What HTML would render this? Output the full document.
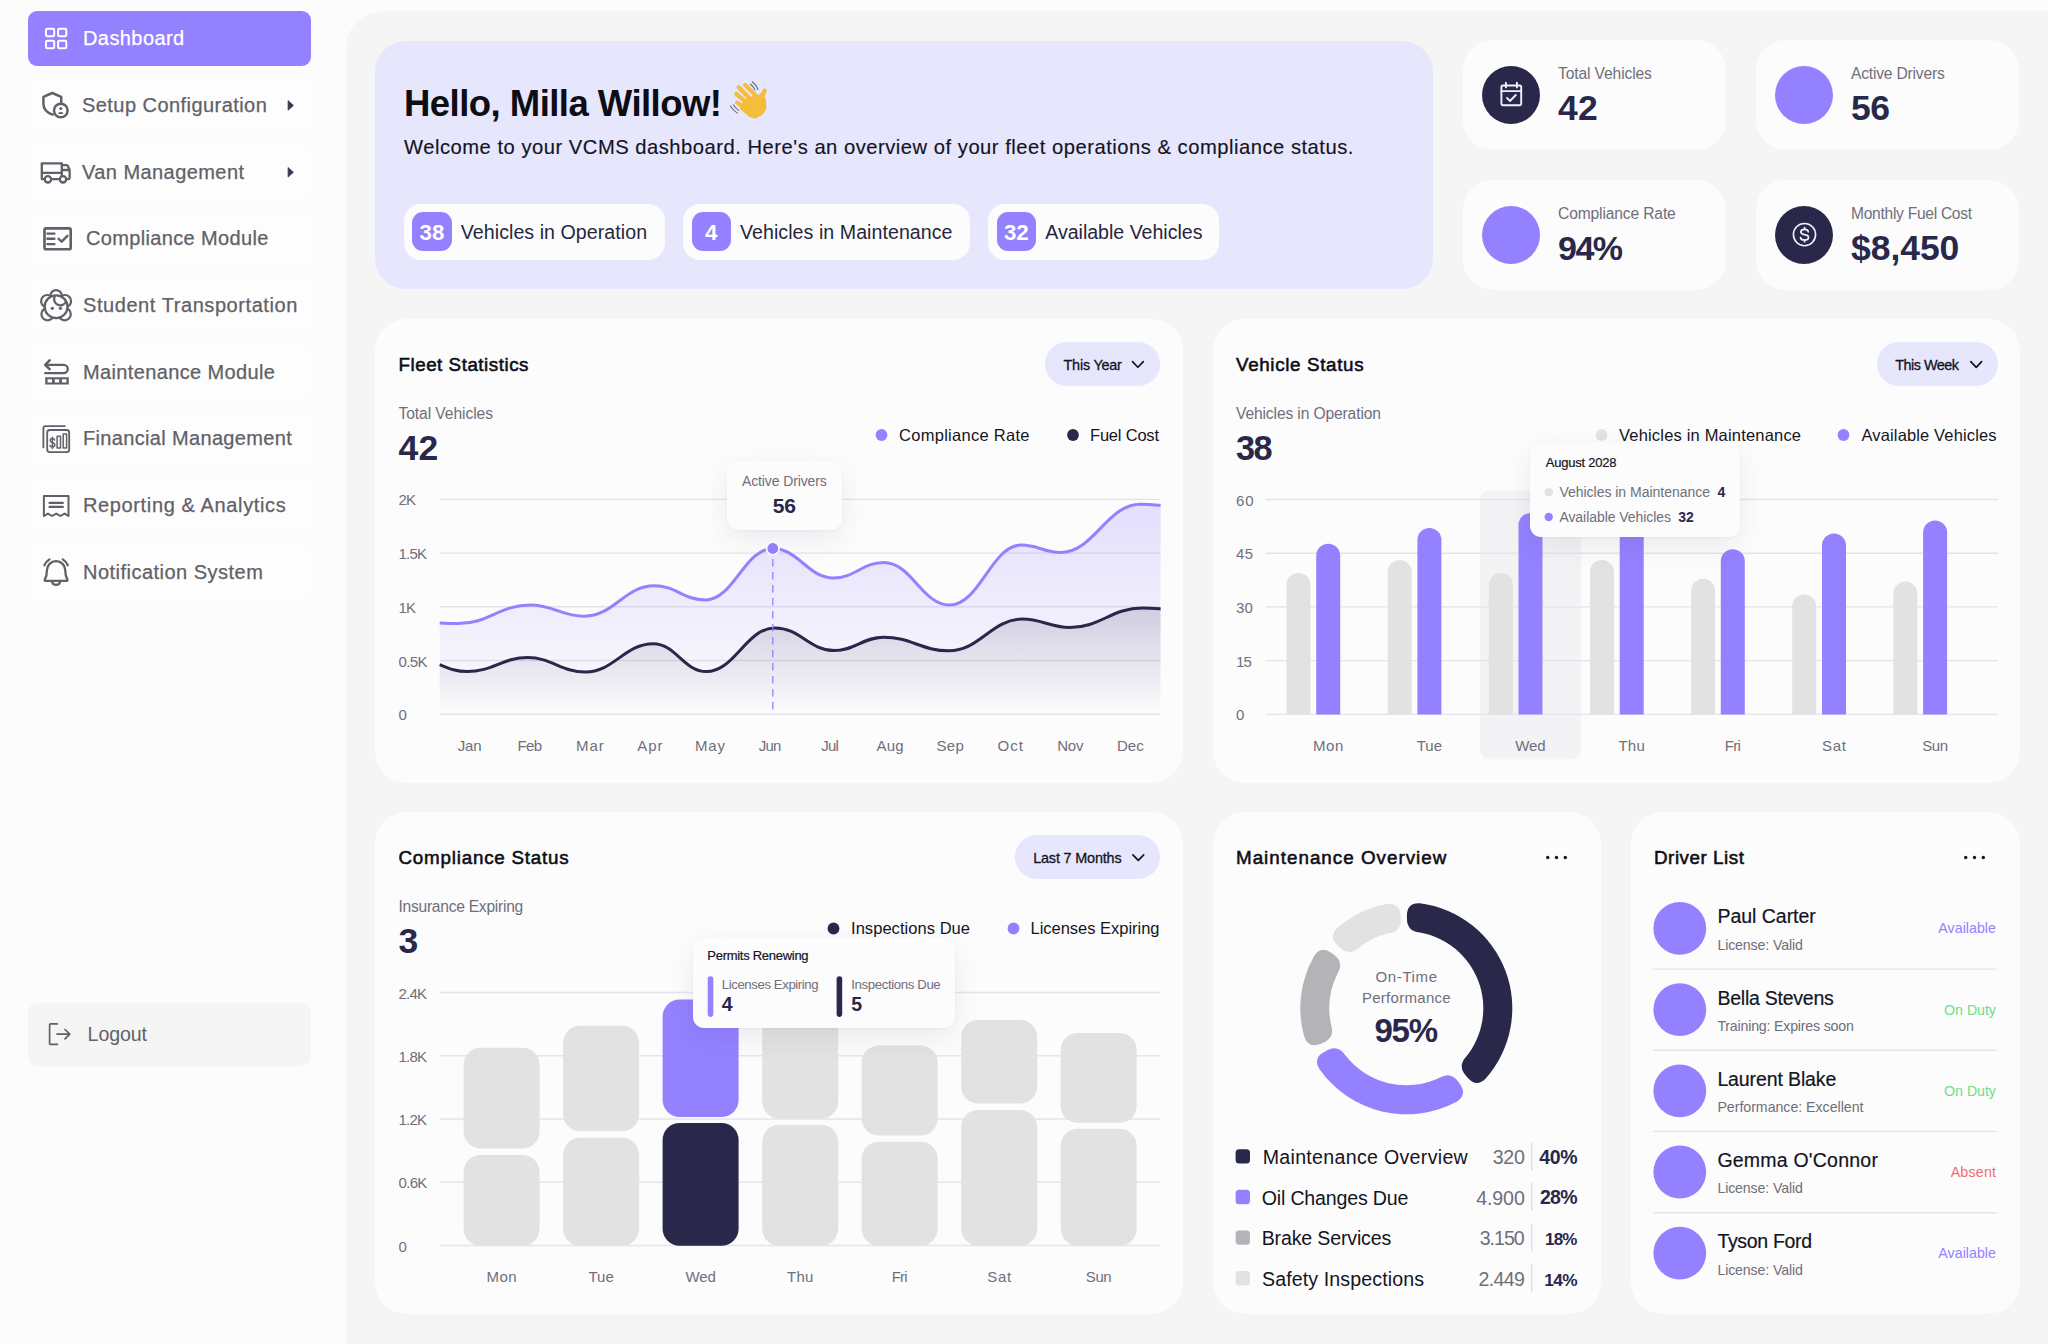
<!DOCTYPE html>
<html lang="en"><head><meta charset="utf-8"><title>VCMS Dashboard</title>
<style>
html,body{margin:0;padding:0;}
body{width:2048px;height:1344px;overflow:hidden;background:#fcfcfc;font-family:"Liberation Sans",sans-serif;}
#app{position:relative;width:2048px;height:1344px;overflow:hidden;}
.t{position:absolute;white-space:nowrap;}
aside,nav,main,section{display:block;margin:0;padding:0;}
.b{position:absolute;box-sizing:border-box;}
svg{position:absolute;left:0;top:0;overflow:visible;}
</style></head><body><div id="app">
<aside><nav aria-label="Main navigation">
<div class="b" style="left:28.00px;top:11.00px;width:283.00px;height:55.00px;background:#9381ff;border-radius:9px;"></div>
<div class="t" style="left:83.00px;top:28.00px;font-size:20px;line-height:20px;color:#ffffff;letter-spacing:0.416px;-webkit-text-stroke:0.25px #ffffff;">Dashboard</div>
<div class="b" style="left:28.00px;top:77.50px;width:283.00px;height:55.00px;background:#fdfdfd;border-radius:9px;"></div>
<div class="t" style="left:82.00px;top:95.00px;font-size:20px;line-height:20px;color:#616167;letter-spacing:0.445px;-webkit-text-stroke:0.25px #616167;">Setup Configuration</div>
<div class="b" style="left:28.00px;top:144.50px;width:283.00px;height:55.00px;background:#fdfdfd;border-radius:9px;"></div>
<div class="t" style="left:82.00px;top:162.00px;font-size:20px;line-height:20px;color:#616167;letter-spacing:0.434px;-webkit-text-stroke:0.25px #616167;">Van Management</div>
<div class="b" style="left:28.00px;top:211.00px;width:283.00px;height:55.00px;background:#fdfdfd;border-radius:9px;"></div>
<div class="t" style="left:86.00px;top:228.00px;font-size:20px;line-height:20px;color:#616167;letter-spacing:0.347px;-webkit-text-stroke:0.25px #616167;">Compliance Module</div>
<div class="b" style="left:28.00px;top:277.50px;width:283.00px;height:55.00px;background:#fdfdfd;border-radius:9px;"></div>
<div class="t" style="left:83.00px;top:295.00px;font-size:20px;line-height:20px;color:#616167;letter-spacing:0.569px;-webkit-text-stroke:0.25px #616167;">Student Transportation</div>
<div class="b" style="left:28.00px;top:344.50px;width:283.00px;height:55.00px;background:#fdfdfd;border-radius:9px;"></div>
<div class="t" style="left:83.00px;top:362.00px;font-size:20px;line-height:20px;color:#616167;letter-spacing:0.370px;-webkit-text-stroke:0.25px #616167;">Maintenance Module</div>
<div class="b" style="left:28.00px;top:411.00px;width:283.00px;height:55.00px;background:#fdfdfd;border-radius:9px;"></div>
<div class="t" style="left:83.00px;top:428.00px;font-size:20px;line-height:20px;color:#616167;letter-spacing:0.338px;-webkit-text-stroke:0.25px #616167;">Financial Management</div>
<div class="b" style="left:28.00px;top:478.00px;width:283.00px;height:55.00px;background:#fdfdfd;border-radius:9px;"></div>
<div class="t" style="left:83.00px;top:495.00px;font-size:20px;line-height:20px;color:#616167;letter-spacing:0.629px;-webkit-text-stroke:0.25px #616167;">Reporting &amp; Analytics</div>
<div class="b" style="left:28.00px;top:544.50px;width:283.00px;height:55.00px;background:#fdfdfd;border-radius:9px;"></div>
<div class="t" style="left:83.00px;top:562.00px;font-size:20px;line-height:20px;color:#616167;letter-spacing:0.480px;-webkit-text-stroke:0.25px #616167;">Notification System</div>
<div class="b" style="left:28.00px;top:1003.00px;width:283.00px;height:63.00px;background:#f5f5f5;border-radius:9px;"></div>
<div class="t" style="left:87.60px;top:1025.00px;font-size:19.6px;line-height:19.6px;color:#616167;letter-spacing:-0.110px;">Logout</div>
<svg width="2048" height="1344" viewBox="0 0 2048 1344"><rect x="46.0" y="28.7" width="8.2" height="7.6" rx="1.2" fill="none" stroke="#fff" stroke-width="2"/><rect x="46.0" y="40.7" width="8.2" height="7.6" rx="1.2" fill="none" stroke="#fff" stroke-width="2"/><rect x="58.1" y="28.7" width="8.2" height="7.6" rx="1.2" fill="none" stroke="#fff" stroke-width="2"/><rect x="58.1" y="40.7" width="8.2" height="7.6" rx="1.2" fill="none" stroke="#fff" stroke-width="2"/><path d="M61.2 102.5 V96.9 L52.3 93 L43.4 96.9 V103.5 C43.4 108.6 47.2 112.8 52.6 114.6" fill="none" stroke="#606068" stroke-linecap="round" stroke-linejoin="round" stroke-width="2.5"/><circle cx="60.8" cy="110.5" r="6.8" fill="none" stroke="#606068" stroke-linecap="round" stroke-linejoin="round" stroke-width="2.5"/><circle cx="60.8" cy="108.4" r="1.5" fill="#606068"/><path d="M57.9 113.2 Q60.8 110.6 63.7 113.2 Q60.8 115 57.9 113.2 Z" fill="#606068"/><path d="M44 179.2 H41.8 V163.4 H61.8 V179.2 H52 M41.8 172.9 H61.8 M61.8 165.2 H66.6 Q67.6 165.2 68 166.2 L69.6 170 V178 Q69.6 179.2 68.4 179.2 H67 M61.8 170 H69.4 M52 179.2 H59" stroke-width="2.3" fill="none" stroke="#606068" stroke-linecap="round" stroke-linejoin="round"/><circle cx="47.9" cy="179.3" r="3.2" stroke-width="2.3" stroke="#606068" stroke-linecap="round" stroke-linejoin="round" fill="#fcfcfc"/><circle cx="63" cy="179.3" r="3.2" stroke-width="2.3" stroke="#606068" stroke-linecap="round" stroke-linejoin="round" fill="#fcfcfc"/><rect x="44.5" y="228.4" width="26.2" height="20.9" rx="1.5" fill="none" stroke="#606068" stroke-linecap="round" stroke-linejoin="round" stroke-width="2.6"/><path d="M47.4 233.6 H54.4 M47.4 238.8 H54.4 M47.4 244.1 H54.4" fill="none" stroke="#606068" stroke-linecap="round" stroke-linejoin="round" stroke-width="2.4" stroke-linecap="butt"/><path d="M58.6 238.8 L61.7 241.7 L67.4 235.8" fill="none" stroke="#606068" stroke-linecap="round" stroke-linejoin="round" stroke-width="2.4" stroke-linecap="butt" stroke-linejoin="miter"/><circle cx="56.1" cy="296" r="5.8" fill="none" stroke="#606068" stroke-linecap="round" stroke-linejoin="round" stroke-width="2.2"/><circle cx="47.3" cy="301.2" r="6.2" fill="none" stroke="#606068" stroke-linecap="round" stroke-linejoin="round" stroke-width="2.2"/><circle cx="64.9" cy="301.2" r="6.2" fill="none" stroke="#606068" stroke-linecap="round" stroke-linejoin="round" stroke-width="2.2"/><circle cx="47.6" cy="314.1" r="6.2" fill="none" stroke="#606068" stroke-linecap="round" stroke-linejoin="round" stroke-width="2.2"/><circle cx="64.6" cy="314.1" r="6.2" fill="none" stroke="#606068" stroke-linecap="round" stroke-linejoin="round" stroke-width="2.2"/><circle cx="56.1" cy="306.7" r="11.4" stroke-width="2.3" stroke="#606068" stroke-linecap="round" stroke-linejoin="round" fill="#fcfcfc"/><path d="M54.6 296.6 A6 6 0 0 0 66 301.6" stroke-width="2.3" fill="none" stroke="#606068" stroke-linecap="round" stroke-linejoin="round"/><circle cx="52.3" cy="308.3" r="1.6" fill="#606068"/><circle cx="60.4" cy="308.3" r="1.6" fill="#606068"/><path d="M46.2 364.8 H63.6 A4.2 4.2 0 0 1 63.6 373.2 H45.2" fill="none" stroke="#606068" stroke-linecap="round" stroke-linejoin="round" stroke-width="2.3" stroke-linecap="butt"/><path d="M49.6 360.4 L45.2 364.8 L49.6 369.2" fill="none" stroke="#606068" stroke-linecap="round" stroke-linejoin="round" stroke-width="2.6" stroke-linecap="butt" stroke-linejoin="miter"/><path d="M45.2 377.2 H68.8 V384.6 H45.2 Z M47.6 379.2 V382.6 H52 V379.2 Z M54.8 379.2 V382.6 H59.2 V379.2 Z M62 379.2 V382.6 H66.4 V379.2 Z" fill="#606068" fill-rule="evenodd"/><path d="M64.8 426.1 H45.4 Q43.4 426.1 43.4 428.1 V447.3" fill="none" stroke="#606068" stroke-linecap="round" stroke-linejoin="round" stroke-width="1.8" stroke-linecap="butt"/><rect x="47.2" y="430" width="22" height="22.2" rx="2.6" fill="none" stroke="#606068" stroke-linecap="round" stroke-linejoin="round" stroke-width="1.8"/><rect x="57.1" y="436.2" width="3.4" height="11.8" fill="none" stroke="#606068" stroke-linecap="round" stroke-linejoin="round" stroke-width="1.5"/><rect x="63.2" y="434" width="3.4" height="14" fill="none" stroke="#606068" stroke-linecap="round" stroke-linejoin="round" stroke-width="1.5"/><path d="M54.6 440 Q54.4 438.6 52.4 438.6 Q50.2 438.6 50.2 440.6 Q50.2 442.2 52.4 442.7 Q54.8 443.2 54.8 445 Q54.8 447 52.4 447 Q50.2 447 50 445.4 M52.4 437.2 V448.6" fill="none" stroke="#606068" stroke-linecap="round" stroke-linejoin="round" stroke-width="1.5"/><path d="M43.9 516 V496 H68.5 V516 L64.5 513.6 L60.4 516 L56.2 513.6 L52 516 L48 513.6 Z" fill="none" stroke="#606068" stroke-linecap="round" stroke-linejoin="round" stroke-width="2"/><path d="M49.6 502.9 H62.8 M49.6 506.9 H62.8" stroke-width="2.3" fill="none" stroke="#606068" stroke-linecap="round" stroke-linejoin="round" stroke-linecap="butt"/><path d="M45.4 580.8 H66.8 Q67.8 580.8 67.4 579.6 C65.6 576.6 65.3 574 65.3 570.4 A9.2 9.2 0 0 0 46.9 570.4 C46.9 574 46.6 576.6 44.8 579.6 Q44.4 580.8 45.4 580.8 Z" stroke-width="2.3" fill="none" stroke="#606068" stroke-linecap="round" stroke-linejoin="round"/><path d="M52 581.4 A4.2 4.4 0 0 0 60.2 581.4" stroke-width="2.3" fill="none" stroke="#606068" stroke-linecap="round" stroke-linejoin="round"/><path d="M44.4 565.2 Q46 561.6 49.4 559.4 M62.8 559.4 Q66.2 561.6 67.8 565.2" stroke-width="2.3" fill="none" stroke="#606068" stroke-linecap="round" stroke-linejoin="round"/><path d="M57.4 1023.9 H50.6 Q49.6 1023.9 49.6 1024.9 V1043.4 Q49.6 1044.4 50.6 1044.4 H57.4 M57 1034.1 H69.6 M65 1029.5 L69.8 1034.1 L65 1038.9" fill="none" stroke="#606068" stroke-linecap="round" stroke-linejoin="round" stroke-width="1.7"/><path d="M288.1 100.60000000000001 L293.4 105.4 L288.1 110.2 Z" fill="#38384f" stroke="#38384f" stroke-width="0.8" stroke-linejoin="round"/><path d="M288.1 167.5 L293.4 172.3 L288.1 177.10000000000002 Z" fill="#38384f" stroke="#38384f" stroke-width="0.8" stroke-linejoin="round"/></svg>
</nav></aside>
<main>
<div class="b" style="left:345.60px;top:11.20px;width:1754.40px;height:1388.80px;background:#f5f5f5;border-radius:37px;"></div>
<section aria-label="Welcome">
<div class="b" style="left:375.00px;top:41.00px;width:1058.00px;height:248.00px;background:#e6e6fd;border-radius:31px;"></div>
<svg width="2048" height="1344" viewBox="0 0 2048 1344"><g transform="translate(700,70) scale(0.048828)" aria-label="waving hand"><path d="M1000 560 L1180 545 L1262 470 L1335 600 L1345 780 L1280 900 L1130 980 L1030 955 L830 790 L860 700 Z" fill="#f4bd3a" stroke="#f4bd3a" stroke-width="30" stroke-linejoin="round"/><g stroke="#f4bd3a" stroke-width="86" stroke-linecap="round" fill="none"><path d="M925 305 L1180 565"/><path d="M790 352 L1060 630"/><path d="M742 488 L1000 705"/><path d="M760 668 L960 810"/><path d="M1322 425 L1250 610"/></g><g stroke="#66666e" stroke-width="22" stroke-linecap="round" fill="none"><path d="M1070 240 Q1150 300 1188 400"/><path d="M1032 292 Q1100 340 1128 412"/><path d="M622 738 Q680 830 765 884"/><path d="M682 712 Q730 785 792 828"/></g></g></svg>
<div class="t" style="left:404.00px;top:86.00px;font-size:36.5px;line-height:36.5px;color:#0d0d14;letter-spacing:-0.536px;font-weight:700;">Hello, Milla Willow!</div>
<div class="t" style="left:404.00px;top:137.00px;font-size:20.2px;line-height:20.2px;color:#14141f;letter-spacing:0.508px;-webkit-text-stroke:0.15px #14141f;">Welcome to your VCMS dashboard. Here's an overview of your fleet operations &amp; compliance status.</div>
<div class="b" style="left:403.50px;top:203.80px;width:261.50px;height:56.20px;background:#fcfcfc;border-radius:17px;"></div>
<div class="b" style="left:412.40px;top:212.00px;width:39.30px;height:39.00px;background:#9381ff;border-radius:11px;"></div>
<div class="t" style="left:419.50px;top:222.00px;font-size:22.3px;line-height:22.3px;color:#ffffff;font-weight:700;">38</div>
<div class="t" style="left:460.80px;top:223.00px;font-size:19.6px;line-height:19.6px;color:#26263f;letter-spacing:0.054px;">Vehicles in Operation</div>
<div class="b" style="left:682.70px;top:203.80px;width:287.20px;height:56.20px;background:#fcfcfc;border-radius:17px;"></div>
<div class="b" style="left:691.60px;top:212.00px;width:39.30px;height:39.00px;background:#9381ff;border-radius:11px;"></div>
<div class="t" style="left:704.90px;top:222.00px;font-size:22.3px;line-height:22.3px;color:#ffffff;font-weight:700;">4</div>
<div class="t" style="left:740.00px;top:223.00px;font-size:19.6px;line-height:19.6px;color:#26263f;letter-spacing:0.053px;">Vehicles in Maintenance</div>
<div class="b" style="left:987.90px;top:203.80px;width:231.50px;height:56.20px;background:#fcfcfc;border-radius:17px;"></div>
<div class="b" style="left:996.80px;top:212.00px;width:39.30px;height:39.00px;background:#9381ff;border-radius:11px;"></div>
<div class="t" style="left:1003.90px;top:222.00px;font-size:22.3px;line-height:22.3px;color:#ffffff;font-weight:700;">32</div>
<div class="t" style="left:1045.20px;top:223.00px;font-size:19.6px;line-height:19.6px;color:#26263f;letter-spacing:-0.016px;">Available Vehicles</div>
</section>
<section aria-label="Key metrics">
<div class="b" style="left:1462.50px;top:40.00px;width:263.50px;height:110.00px;background:#fcfcfc;border-radius:30px;"></div>
<div class="b" style="left:1482.00px;top:66.00px;width:58.00px;height:58.00px;background:#29284a;border-radius:29px;"></div>
<div class="t" style="left:1558.00px;top:66.00px;font-size:15.6px;line-height:15.6px;color:#6f6f7b;letter-spacing:-0.112px;">Total Vehicles</div>
<div class="t" style="left:1558.00px;top:91.00px;font-size:35.5px;line-height:35.5px;color:#29284a;letter-spacing:0.318px;font-weight:700;">42</div>
<div class="b" style="left:1755.50px;top:40.00px;width:263.50px;height:110.00px;background:#fcfcfc;border-radius:30px;"></div>
<div class="b" style="left:1775.00px;top:66.00px;width:58.00px;height:58.00px;background:#9381ff;border-radius:29px;"></div>
<div class="t" style="left:1851.00px;top:66.00px;font-size:15.6px;line-height:15.6px;color:#6f6f7b;letter-spacing:-0.188px;">Active Drivers</div>
<div class="t" style="left:1851.00px;top:91.00px;font-size:35.5px;line-height:35.5px;color:#29284a;letter-spacing:-0.616px;font-weight:700;">56</div>
<div class="b" style="left:1462.50px;top:179.70px;width:263.50px;height:110.00px;background:#fcfcfc;border-radius:30px;"></div>
<div class="b" style="left:1482.00px;top:205.70px;width:58.00px;height:58.00px;background:#9381ff;border-radius:29px;"></div>
<div class="t" style="left:1558.00px;top:206.00px;font-size:15.6px;line-height:15.6px;color:#6f6f7b;letter-spacing:-0.133px;">Compliance Rate</div>
<div class="t" style="left:1558.00px;top:231.00px;font-size:34.0px;line-height:34.0px;color:#29284a;letter-spacing:-1.476px;font-weight:700;">94%</div>
<div class="b" style="left:1755.50px;top:179.70px;width:263.50px;height:110.00px;background:#fcfcfc;border-radius:30px;"></div>
<div class="b" style="left:1775.00px;top:205.70px;width:58.00px;height:58.00px;background:#29284a;border-radius:29px;"></div>
<div class="t" style="left:1851.00px;top:206.00px;font-size:15.6px;line-height:15.6px;color:#6f6f7b;letter-spacing:-0.286px;">Monthly Fuel Cost</div>
<div class="t" style="left:1851.00px;top:231.00px;font-size:35.5px;line-height:35.5px;color:#29284a;letter-spacing:-0.054px;font-weight:700;">$8,450</div>
<svg width="2048" height="1344" viewBox="0 0 2048 1344"><g fill="none" stroke="#f1f1ff" stroke-width="1.9" stroke-linecap="round" stroke-linejoin="round"><rect x="1501.4" y="85.5" width="19.8" height="19.7" rx="1.6"/><path d="M1501.4 91.1 H1521.2 M1505.9 82.6 V87.4 M1516.9 82.6 V87.4"/><path d="M1507 97.9 L1510 101 L1515.8 95"/><circle cx="1804.5" cy="234.6" r="11.1" stroke-width="1.6"/><path d="M1808.2 231.8 Q1808 229.4 1804.6 229.4 Q1800.9 229.4 1800.9 232 Q1800.9 234.2 1804.6 234.7 Q1808.5 235.2 1808.5 237.6 Q1808.5 240.1 1804.6 240.1 Q1800.8 240.1 1800.5 237.6 M1804.6 227.7 V229.4 M1804.6 240.1 V241.7" stroke-width="1.7"/></g></svg>
</section>
<section aria-label="Charts and lists">
<div class="b" style="left:375.00px;top:319.00px;width:808.00px;height:463.50px;background:#fcfcfc;border-radius:32px;"></div>
<div class="b" style="left:1213.00px;top:319.00px;width:806.50px;height:463.50px;background:#fcfcfc;border-radius:32px;"></div>
<div class="b" style="left:375.00px;top:812.30px;width:808.00px;height:501.70px;background:#fcfcfc;border-radius:32px;"></div>
<div class="b" style="left:1213.00px;top:812.30px;width:388.00px;height:501.70px;background:#fcfcfc;border-radius:32px;"></div>
<div class="b" style="left:1631.00px;top:812.30px;width:388.50px;height:501.70px;background:#fcfcfc;border-radius:32px;"></div>
<div class="t" style="left:398.50px;top:356.00px;font-size:18.8px;line-height:18.8px;color:#0d0d14;letter-spacing:0.522px;-webkit-text-stroke:0.55px #0d0d14;">Fleet Statistics</div>
<div class="t" style="left:1236.00px;top:356.00px;font-size:18.8px;line-height:18.8px;color:#0d0d14;letter-spacing:0.654px;-webkit-text-stroke:0.55px #0d0d14;">Vehicle Status</div>
<div class="t" style="left:398.50px;top:849.00px;font-size:18.8px;line-height:18.8px;color:#0d0d14;letter-spacing:0.787px;-webkit-text-stroke:0.55px #0d0d14;">Compliance Status</div>
<div class="t" style="left:1236.00px;top:849.00px;font-size:18.8px;line-height:18.8px;color:#0d0d14;letter-spacing:1.014px;-webkit-text-stroke:0.55px #0d0d14;">Maintenance Overview</div>
<div class="t" style="left:1654.00px;top:849.00px;font-size:18.8px;line-height:18.8px;color:#0d0d14;letter-spacing:0.535px;-webkit-text-stroke:0.55px #0d0d14;">Driver List</div>
<div class="b" style="left:1045.20px;top:342.00px;width:114.40px;height:43.70px;background:#e6e6fd;border-radius:21.849999999999994px;"></div>
<div class="t" style="left:1063.50px;top:358.00px;font-size:14.4px;line-height:14.4px;color:#14141f;letter-spacing:-0.205px;-webkit-text-stroke:0.3px #14141f;">This Year</div>
<svg width="2048" height="1344"><path d="M1132.4999999999998 361.65000000000003 L1137.8999999999999 367.25000000000006 L1143.3 361.65000000000003" fill="none" stroke="#14141f" stroke-width="1.7" stroke-linecap="round" stroke-linejoin="round"/></svg>
<div class="b" style="left:1877.00px;top:342.00px;width:120.90px;height:43.80px;background:#e6e6fd;border-radius:21.900000000000006px;"></div>
<div class="t" style="left:1895.30px;top:358.00px;font-size:14.4px;line-height:14.4px;color:#14141f;letter-spacing:-0.501px;-webkit-text-stroke:0.3px #14141f;">This Week</div>
<svg width="2048" height="1344"><path d="M1970.8 361.7 L1976.2 367.3 L1981.6000000000001 361.7" fill="none" stroke="#14141f" stroke-width="1.7" stroke-linecap="round" stroke-linejoin="round"/></svg>
<div class="b" style="left:1014.90px;top:835.10px;width:145.10px;height:43.90px;background:#e6e6fd;border-radius:21.94999999999999px;"></div>
<div class="t" style="left:1033.20px;top:851.00px;font-size:14.4px;line-height:14.4px;color:#14141f;letter-spacing:-0.163px;-webkit-text-stroke:0.3px #14141f;">Last 7 Months</div>
<svg width="2048" height="1344"><path d="M1132.8999999999999 854.85 L1138.3 860.4499999999999 L1143.7 854.85" fill="none" stroke="#14141f" stroke-width="1.7" stroke-linecap="round" stroke-linejoin="round"/></svg>
<div class="t" style="left:398.50px;top:406.00px;font-size:15.6px;line-height:15.6px;color:#6f6f7b;letter-spacing:-0.066px;">Total Vehicles</div>
<div class="t" style="left:398.50px;top:431.00px;font-size:35.5px;line-height:35.5px;color:#29284a;letter-spacing:0.318px;font-weight:700;">42</div>
<div class="t" style="left:1236.00px;top:406.00px;font-size:15.6px;line-height:15.6px;color:#6f6f7b;letter-spacing:-0.121px;">Vehicles in Operation</div>
<div class="t" style="left:1236.00px;top:431.00px;font-size:34.25px;line-height:34.25px;color:#29284a;letter-spacing:-1.543px;font-weight:700;">38</div>
<div class="t" style="left:398.50px;top:899.00px;font-size:15.6px;line-height:15.6px;color:#6f6f7b;letter-spacing:-0.259px;">Insurance Expiring</div>
<div class="t" style="left:398.50px;top:924.00px;font-size:35.5px;line-height:35.5px;color:#29284a;font-weight:700;">3</div>
<svg width="2048" height="1344" viewBox="0 0 2048 1344"><line x1="439.7" y1="499.4" x2="1160.4" y2="499.4" stroke="#e4e4ea" stroke-width="1.4"/><line x1="439.7" y1="553.1" x2="1160.4" y2="553.1" stroke="#e4e4ea" stroke-width="1.4"/><line x1="439.7" y1="606.8" x2="1160.4" y2="606.8" stroke="#e4e4ea" stroke-width="1.4"/><line x1="439.7" y1="660.5" x2="1160.4" y2="660.5" stroke="#e4e4ea" stroke-width="1.4"/><line x1="439.7" y1="714.2" x2="1160.4" y2="714.2" stroke="#e4e4ea" stroke-width="1.4"/><defs><linearGradient id="gp" x1="0" y1="0" x2="0" y2="1"><stop offset="0" stop-color="#9381ff" stop-opacity="0.24"/><stop offset="1" stop-color="#9381ff" stop-opacity="0.0"/></linearGradient><linearGradient id="gd" x1="0" y1="0" x2="0" y2="1"><stop offset="0" stop-color="#29284a" stop-opacity="0.16"/><stop offset="1" stop-color="#29284a" stop-opacity="0.0"/></linearGradient></defs><path d="M439.7 622.9 C445.8 623.3 450.3 623.6 457.9 623.6 C488.3 623.6 499.9 605.0 530.4 605.0 C553.1 605.0 561.7 616.2 584.4 616.2 C613.7 616.2 624.8 585.7 654.1 585.7 C675.6 585.7 683.8 600.0 705.3 600.0 C733.6 600.0 744.4 548.5 772.8 548.5 C798.3 548.5 808.0 578.0 833.5 578.0 C854.6 578.0 862.6 562.4 883.7 562.4 C911.4 562.4 922.0 605.0 949.7 605.0 C979.8 605.0 991.3 545.1 1021.4 545.1 C1037.8 545.1 1044.0 552.5 1060.4 552.5 C1094.0 552.5 1106.8 504.2 1140.4 504.2 C1148.9 504.2 1153.8 504.8 1160.6 505.5 L1160.4 714 L439.7 714 Z" fill="url(#gp)"/><path d="M439.7 664.7 C448.9 668.5 455.6 671.6 467.2 671.6 C492.6 671.6 502.3 657.6 527.7 657.6 C551.9 657.6 561.1 672.0 585.3 672.0 C613.8 672.0 624.7 643.7 653.2 643.7 C675.5 643.7 683.9 671.6 706.2 671.6 C735.1 671.6 746.1 627.9 775.0 627.9 C799.9 627.9 809.5 650.6 834.4 650.6 C855.1 650.6 863.0 637.2 883.7 637.2 C911.0 637.2 921.5 650.8 948.8 650.8 C979.7 650.8 991.4 619.1 1022.3 619.1 C1042.2 619.1 1049.8 627.5 1069.7 627.5 C1100.2 627.5 1111.8 608.0 1142.3 608.0 C1150.0 608.0 1154.5 608.4 1160.6 608.9 L1160.4 714 L439.7 714 Z" fill="url(#gd)"/><path d="M439.7 622.9 C445.8 623.3 450.3 623.6 457.9 623.6 C488.3 623.6 499.9 605.0 530.4 605.0 C553.1 605.0 561.7 616.2 584.4 616.2 C613.7 616.2 624.8 585.7 654.1 585.7 C675.6 585.7 683.8 600.0 705.3 600.0 C733.6 600.0 744.4 548.5 772.8 548.5 C798.3 548.5 808.0 578.0 833.5 578.0 C854.6 578.0 862.6 562.4 883.7 562.4 C911.4 562.4 922.0 605.0 949.7 605.0 C979.8 605.0 991.3 545.1 1021.4 545.1 C1037.8 545.1 1044.0 552.5 1060.4 552.5 C1094.0 552.5 1106.8 504.2 1140.4 504.2 C1148.9 504.2 1153.8 504.8 1160.6 505.5" fill="none" stroke="#9381ff" stroke-width="3"/><path d="M439.7 664.7 C448.9 668.5 455.6 671.6 467.2 671.6 C492.6 671.6 502.3 657.6 527.7 657.6 C551.9 657.6 561.1 672.0 585.3 672.0 C613.8 672.0 624.7 643.7 653.2 643.7 C675.5 643.7 683.9 671.6 706.2 671.6 C735.1 671.6 746.1 627.9 775.0 627.9 C799.9 627.9 809.5 650.6 834.4 650.6 C855.1 650.6 863.0 637.2 883.7 637.2 C911.0 637.2 921.5 650.8 948.8 650.8 C979.7 650.8 991.4 619.1 1022.3 619.1 C1042.2 619.1 1049.8 627.5 1069.7 627.5 C1100.2 627.5 1111.8 608.0 1142.3 608.0 C1150.0 608.0 1154.5 608.4 1160.6 608.9" fill="none" stroke="#29284a" stroke-width="3"/><line x1="772.8" y1="559" x2="772.8" y2="714" stroke="#9381ff" stroke-width="1.3" stroke-dasharray="7.4 5.6"/><circle cx="772.8" cy="548.5" r="6.3" fill="#9381ff" stroke="#fcfcfc" stroke-width="1.8"/><circle cx="881.5" cy="435" r="5.9" fill="#9381ff"/><circle cx="1073" cy="435" r="5.9" fill="#29284a"/><rect x="1480.2" y="490.5" width="100.8" height="269.1" rx="9" fill="#f3f3f5"/><line x1="1265.5" y1="499.5" x2="1998" y2="499.5" stroke="#e4e4ea" stroke-width="1.4"/><line x1="1265.5" y1="553.2" x2="1998" y2="553.2" stroke="#e4e4ea" stroke-width="1.4"/><line x1="1265.5" y1="606.9" x2="1998" y2="606.9" stroke="#e4e4ea" stroke-width="1.4"/><line x1="1265.5" y1="660.6" x2="1998" y2="660.6" stroke="#e4e4ea" stroke-width="1.4"/><line x1="1265.5" y1="714.4" x2="1998" y2="714.4" stroke="#e4e4ea" stroke-width="1.4"/><path d="M1286.5 714.4 V585.0 a12 12 0 0 1 24 0 V714.4 Z" fill="#e2e2e2"/><path d="M1316.2 714.4 V555.8 a12 12 0 0 1 24 0 V714.4 Z" fill="#9381ff"/><path d="M1387.7 714.4 V572.0 a12 12 0 0 1 24 0 V714.4 Z" fill="#e2e2e2"/><path d="M1417.4 714.4 V540.0 a12 12 0 0 1 24 0 V714.4 Z" fill="#9381ff"/><path d="M1488.8 714.4 V585.0 a12 12 0 0 1 24 0 V714.4 Z" fill="#e2e2e2"/><path d="M1518.5 714.4 V525.0 a12 12 0 0 1 24 0 V714.4 Z" fill="#9381ff"/><path d="M1590.0 714.4 V572.0 a12 12 0 0 1 24 0 V714.4 Z" fill="#e2e2e2"/><path d="M1619.7 714.4 V532.0 a12 12 0 0 1 24 0 V714.4 Z" fill="#9381ff"/><path d="M1691.1 714.4 V590.7 a12 12 0 0 1 24 0 V714.4 Z" fill="#e2e2e2"/><path d="M1720.8 714.4 V561.3 a12 12 0 0 1 24 0 V714.4 Z" fill="#9381ff"/><path d="M1792.2 714.4 V606.5 a12 12 0 0 1 24 0 V714.4 Z" fill="#e2e2e2"/><path d="M1822.0 714.4 V545.6 a12 12 0 0 1 24 0 V714.4 Z" fill="#9381ff"/><path d="M1893.4 714.4 V593.6 a12 12 0 0 1 24 0 V714.4 Z" fill="#e2e2e2"/><path d="M1923.1 714.4 V532.4 a12 12 0 0 1 24 0 V714.4 Z" fill="#9381ff"/><circle cx="1601.5" cy="435" r="5.9" fill="#e2e2e2"/><circle cx="1843.5" cy="435" r="5.9" fill="#9381ff"/><line x1="439.7" y1="992.5" x2="1160.4" y2="992.5" stroke="#e4e4ea" stroke-width="1.4"/><line x1="439.7" y1="1055.8" x2="1160.4" y2="1055.8" stroke="#e4e4ea" stroke-width="1.4"/><line x1="439.7" y1="1119" x2="1160.4" y2="1119" stroke="#e4e4ea" stroke-width="1.4"/><line x1="439.7" y1="1182.2" x2="1160.4" y2="1182.2" stroke="#e4e4ea" stroke-width="1.4"/><line x1="439.7" y1="1245.5" x2="1160.4" y2="1245.5" stroke="#e4e4ea" stroke-width="1.4"/><rect x="463.6" y="1155" width="76" height="90.8" rx="17" fill="#e2e2e2"/><rect x="463.6" y="1047.7" width="76" height="100.9" rx="17" fill="#e2e2e2"/><rect x="563.1" y="1137.7" width="76" height="108.1" rx="17" fill="#e2e2e2"/><rect x="563.1" y="1025.8" width="76" height="105.4" rx="17" fill="#e2e2e2"/><rect x="662.6" y="1123" width="76" height="122.8" rx="17" fill="#29284a"/><rect x="662.6" y="999.4" width="76" height="117.6" rx="17" fill="#9381ff"/><rect x="762.2" y="1124.7" width="76" height="121.1" rx="17" fill="#e2e2e2"/><rect x="762.2" y="1008" width="76" height="110.6" rx="17" fill="#e2e2e2"/><rect x="861.7" y="1141.7" width="76" height="104.1" rx="17" fill="#e2e2e2"/><rect x="861.7" y="1045.6" width="76" height="90.0" rx="17" fill="#e2e2e2"/><rect x="961.2" y="1110" width="76" height="135.8" rx="17" fill="#e2e2e2"/><rect x="961.2" y="1020" width="76" height="83.6" rx="17" fill="#e2e2e2"/><rect x="1060.7" y="1128.7" width="76" height="117.1" rx="17" fill="#e2e2e2"/><rect x="1060.7" y="1033" width="76" height="89.7" rx="17" fill="#e2e2e2"/><circle cx="833.5" cy="928.5" r="5.9" fill="#29284a"/><circle cx="1013.5" cy="928.5" r="5.9" fill="#9381ff"/><path d="M1420.00 903.19 A106.0 106.0 0 0 1 1485.72 1078.50 Q1476.54 1087.69 1467.92 1077.95 L1465.94 1075.71 Q1457.32 1065.97 1466.29 1056.58 A77.0 77.0 0 0 0 1419.77 932.49 Q1406.84 931.30 1406.93 918.30 L1406.95 915.30 Q1407.04 902.30 1420.00 903.19 Z" fill="#29284a"/><path d="M1456.51 1101.65 A106.0 106.0 0 0 1 1319.50 1069.14 Q1312.71 1058.06 1324.19 1051.96 L1326.83 1050.55 Q1338.31 1044.45 1345.35 1055.36 A77.0 77.0 0 0 0 1439.60 1077.73 Q1450.80 1071.14 1458.31 1081.75 L1460.04 1084.20 Q1467.55 1094.81 1456.51 1101.65 Z" fill="#9381ff"/><path d="M1304.14 1036.58 A106.0 106.0 0 0 1 1314.02 956.15 Q1321.09 945.25 1331.54 952.98 L1333.95 954.77 Q1344.40 962.50 1337.59 973.55 A77.0 77.0 0 0 0 1331.22 1025.39 Q1335.16 1037.77 1323.15 1042.74 L1320.38 1043.89 Q1308.37 1048.86 1304.14 1036.58 Z" fill="#b4b4b8"/><path d="M1337.50 927.66 A106.0 106.0 0 0 1 1386.93 904.08 Q1399.83 902.50 1400.62 915.47 L1400.81 918.47 Q1401.60 931.44 1388.75 933.33 A77.0 77.0 0 0 0 1359.08 947.48 Q1349.53 956.28 1339.95 947.50 L1337.73 945.47 Q1328.15 936.69 1337.50 927.66 Z" fill="#e2e2e2"/><circle cx="1547.7" cy="857.5" r="1.7" fill="#14141f"/><circle cx="1556.5" cy="857.5" r="1.7" fill="#14141f"/><circle cx="1565.3" cy="857.5" r="1.7" fill="#14141f"/><circle cx="1965.7" cy="857.5" r="1.7" fill="#14141f"/><circle cx="1974.5" cy="857.5" r="1.7" fill="#14141f"/><circle cx="1983.3" cy="857.5" r="1.7" fill="#14141f"/><rect x="1235.6" y="1149.2" width="14.4" height="14.4" rx="3.5" fill="#29284a"/><line x1="1531.7" y1="1142.4" x2="1531.7" y2="1170.4" stroke="#dcdce2" stroke-width="1.3"/><rect x="1235.6" y="1189.8" width="14.4" height="14.4" rx="3.5" fill="#9381ff"/><line x1="1531.7" y1="1183.0" x2="1531.7" y2="1211.0" stroke="#dcdce2" stroke-width="1.3"/><rect x="1235.6" y="1230.4" width="14.4" height="14.4" rx="3.5" fill="#b4b4b8"/><line x1="1531.7" y1="1223.6" x2="1531.7" y2="1251.6" stroke="#dcdce2" stroke-width="1.3"/><rect x="1235.6" y="1271.0" width="14.4" height="14.4" rx="3.5" fill="#e2e2e2"/><line x1="1531.7" y1="1264.2" x2="1531.7" y2="1292.2" stroke="#dcdce2" stroke-width="1.3"/><circle cx="1679.8" cy="928.4" r="26.4" fill="#9381ff"/><line x1="1653" y1="969.1" x2="1996.5" y2="969.1" stroke="#e4e4ea" stroke-width="1.4"/><circle cx="1679.8" cy="1009.6" r="26.4" fill="#9381ff"/><line x1="1653" y1="1050.3" x2="1996.5" y2="1050.3" stroke="#e4e4ea" stroke-width="1.4"/><circle cx="1679.8" cy="1090.8" r="26.4" fill="#9381ff"/><line x1="1653" y1="1131.5" x2="1996.5" y2="1131.5" stroke="#e4e4ea" stroke-width="1.4"/><circle cx="1679.8" cy="1172.0" r="26.4" fill="#9381ff"/><line x1="1653" y1="1212.7" x2="1996.5" y2="1212.7" stroke="#e4e4ea" stroke-width="1.4"/><circle cx="1679.8" cy="1253.2" r="26.4" fill="#9381ff"/></svg>
<div class="t" style="left:398.50px;top:492.00px;font-size:15px;line-height:15px;color:#6f6f7b;letter-spacing:-0.750px;">2K</div>
<div class="t" style="left:398.50px;top:546.00px;font-size:15px;line-height:15px;color:#6f6f7b;letter-spacing:-0.750px;">1.5K</div>
<div class="t" style="left:398.50px;top:600.00px;font-size:15px;line-height:15px;color:#6f6f7b;letter-spacing:-0.750px;">1K</div>
<div class="t" style="left:398.50px;top:654.00px;font-size:15px;line-height:15px;color:#6f6f7b;letter-spacing:-0.603px;">0.5K</div>
<div class="t" style="left:398.50px;top:707.00px;font-size:15px;line-height:15px;color:#6f6f7b;">0</div>
<div class="t" style="left:457.86px;top:738.00px;font-size:15px;line-height:15px;color:#6f6f7b;letter-spacing:-0.248px;">Jan</div>
<div class="t" style="left:517.43px;top:738.00px;font-size:15px;line-height:15px;color:#6f6f7b;letter-spacing:-0.592px;">Feb</div>
<div class="t" style="left:575.91px;top:738.00px;font-size:15px;line-height:15px;color:#6f6f7b;letter-spacing:0.991px;">Mar</div>
<div class="t" style="left:637.28px;top:738.00px;font-size:15px;line-height:15px;color:#6f6f7b;letter-spacing:0.926px;">Apr</div>
<div class="t" style="left:694.88px;top:738.00px;font-size:15px;line-height:15px;color:#6f6f7b;letter-spacing:0.889px;">May</div>
<div class="t" style="left:758.66px;top:738.00px;font-size:15px;line-height:15px;color:#6f6f7b;letter-spacing:-0.750px;">Jun</div>
<div class="t" style="left:821.22px;top:738.00px;font-size:15px;line-height:15px;color:#6f6f7b;letter-spacing:-0.750px;">Jul</div>
<div class="t" style="left:876.52px;top:738.00px;font-size:15px;line-height:15px;color:#6f6f7b;letter-spacing:0.250px;">Aug</div>
<div class="t" style="left:936.47px;top:738.00px;font-size:15px;line-height:15px;color:#6f6f7b;letter-spacing:0.368px;">Sep</div>
<div class="t" style="left:997.62px;top:738.00px;font-size:15px;line-height:15px;color:#6f6f7b;letter-spacing:0.953px;">Oct</div>
<div class="t" style="left:1057.20px;top:738.00px;font-size:15px;line-height:15px;color:#6f6f7b;letter-spacing:-0.238px;">Nov</div>
<div class="t" style="left:1116.92px;top:738.00px;font-size:15px;line-height:15px;color:#6f6f7b;letter-spacing:0.102px;">Dec</div>
<div class="t" style="left:899.00px;top:427.00px;font-size:16.5px;line-height:16.5px;color:#14141f;letter-spacing:0.281px;">Compliance Rate</div>
<div class="t" style="left:1090.00px;top:427.00px;font-size:16.5px;line-height:16.5px;color:#14141f;letter-spacing:-0.201px;">Fuel Cost</div>
<div class="t" style="left:1236.00px;top:493.00px;font-size:15px;line-height:15px;color:#6f6f7b;letter-spacing:1.006px;">60</div>
<div class="t" style="left:1236.00px;top:546.00px;font-size:15px;line-height:15px;color:#6f6f7b;letter-spacing:0.460px;">45</div>
<div class="t" style="left:1236.00px;top:600.00px;font-size:15px;line-height:15px;color:#6f6f7b;letter-spacing:0.272px;">30</div>
<div class="t" style="left:1236.00px;top:654.00px;font-size:15px;line-height:15px;color:#6f6f7b;letter-spacing:-0.750px;">15</div>
<div class="t" style="left:1236.00px;top:707.00px;font-size:15px;line-height:15px;color:#6f6f7b;">0</div>
<div class="t" style="left:1313.10px;top:738.00px;font-size:15px;line-height:15px;color:#6f6f7b;letter-spacing:0.507px;">Mon</div>
<div class="t" style="left:1416.64px;top:738.00px;font-size:15px;line-height:15px;color:#6f6f7b;letter-spacing:0.061px;">Tue</div>
<div class="t" style="left:1515.33px;top:738.00px;font-size:15px;line-height:15px;color:#6f6f7b;letter-spacing:-0.112px;">Wed</div>
<div class="t" style="left:1618.53px;top:738.00px;font-size:15px;line-height:15px;color:#6f6f7b;letter-spacing:0.192px;">Thu</div>
<div class="t" style="left:1724.80px;top:738.00px;font-size:15px;line-height:15px;color:#6f6f7b;letter-spacing:-0.750px;">Fri</div>
<div class="t" style="left:1822.02px;top:738.00px;font-size:15px;line-height:15px;color:#6f6f7b;letter-spacing:0.673px;">Sat</div>
<div class="t" style="left:1922.18px;top:738.00px;font-size:15px;line-height:15px;color:#6f6f7b;letter-spacing:-0.420px;">Sun</div>
<div class="t" style="left:1619.00px;top:427.00px;font-size:16.5px;line-height:16.5px;color:#14141f;letter-spacing:0.184px;">Vehicles in Maintenance</div>
<div class="t" style="left:1861.50px;top:427.00px;font-size:16.5px;line-height:16.5px;color:#14141f;letter-spacing:0.135px;">Available Vehicles</div>
<div class="t" style="left:398.50px;top:986.00px;font-size:15px;line-height:15px;color:#6f6f7b;letter-spacing:-0.750px;">2.4K</div>
<div class="t" style="left:398.50px;top:1049.00px;font-size:15px;line-height:15px;color:#6f6f7b;letter-spacing:-0.750px;">1.8K</div>
<div class="t" style="left:398.50px;top:1112.00px;font-size:15px;line-height:15px;color:#6f6f7b;letter-spacing:-0.750px;">1.2K</div>
<div class="t" style="left:398.50px;top:1175.00px;font-size:15px;line-height:15px;color:#6f6f7b;letter-spacing:-0.681px;">0.6K</div>
<div class="t" style="left:398.50px;top:1239.00px;font-size:15px;line-height:15px;color:#6f6f7b;">0</div>
<div class="t" style="left:486.50px;top:1269.00px;font-size:15px;line-height:15px;color:#6f6f7b;letter-spacing:0.507px;">Mon</div>
<div class="t" style="left:588.41px;top:1269.00px;font-size:15px;line-height:15px;color:#6f6f7b;letter-spacing:0.061px;">Tue</div>
<div class="t" style="left:685.47px;top:1269.00px;font-size:15px;line-height:15px;color:#6f6f7b;letter-spacing:-0.112px;">Wed</div>
<div class="t" style="left:787.04px;top:1269.00px;font-size:15px;line-height:15px;color:#6f6f7b;letter-spacing:0.192px;">Thu</div>
<div class="t" style="left:891.68px;top:1269.00px;font-size:15px;line-height:15px;color:#6f6f7b;letter-spacing:-0.750px;">Fri</div>
<div class="t" style="left:987.27px;top:1269.00px;font-size:15px;line-height:15px;color:#6f6f7b;letter-spacing:0.673px;">Sat</div>
<div class="t" style="left:1085.80px;top:1269.00px;font-size:15px;line-height:15px;color:#6f6f7b;letter-spacing:-0.420px;">Sun</div>
<div class="t" style="left:851.00px;top:920.00px;font-size:16.5px;line-height:16.5px;color:#14141f;letter-spacing:0.048px;">Inspections Due</div>
<div class="t" style="left:1030.50px;top:920.00px;font-size:16.5px;line-height:16.5px;color:#14141f;letter-spacing:-0.020px;">Licenses Expiring</div>
<div class="t" style="left:1375.58px;top:969.00px;font-size:15px;line-height:15px;color:#6f6f7b;letter-spacing:0.609px;">On-Time</div>
<div class="t" style="left:1361.92px;top:990.00px;font-size:15px;line-height:15px;color:#6f6f7b;letter-spacing:0.289px;">Performance</div>
<div class="t" style="left:1374.39px;top:1014.00px;font-size:33px;line-height:33px;color:#29284a;letter-spacing:-1.116px;font-weight:700;">95%</div>
<div class="t" style="left:1262.70px;top:1148.00px;font-size:19.6px;line-height:19.6px;color:#14141f;letter-spacing:0.304px;">Maintenance Overview</div>
<div class="t" style="left:1492.68px;top:1148.00px;font-size:19.6px;line-height:19.6px;color:#6f6f7b;letter-spacing:-0.292px;">320</div>
<div class="t" style="left:1539.35px;top:1148.00px;font-size:19.5px;line-height:19.5px;color:#29284a;letter-spacing:-0.440px;font-weight:700;">40%</div>
<div class="t" style="left:1261.70px;top:1189.00px;font-size:19.6px;line-height:19.6px;color:#14141f;letter-spacing:-0.174px;">Oil Changes Due</div>
<div class="t" style="left:1476.29px;top:1189.00px;font-size:19.6px;line-height:19.6px;color:#6f6f7b;letter-spacing:-0.135px;">4.900</div>
<div class="t" style="left:1540.09px;top:1188.00px;font-size:19.5px;line-height:19.5px;color:#29284a;letter-spacing:-0.810px;font-weight:700;">28%</div>
<div class="t" style="left:1261.70px;top:1229.00px;font-size:19.6px;line-height:19.6px;color:#14141f;letter-spacing:-0.172px;">Brake Services</div>
<div class="t" style="left:1479.67px;top:1229.00px;font-size:19.6px;line-height:19.6px;color:#6f6f7b;letter-spacing:-0.980px;">3.150</div>
<div class="t" style="left:1544.92px;top:1231.00px;font-size:17.0px;line-height:17.0px;color:#29284a;letter-spacing:-0.723px;font-weight:700;">18%</div>
<div class="t" style="left:1262.00px;top:1270.00px;font-size:19.6px;line-height:19.6px;color:#14141f;letter-spacing:0.115px;">Safety Inspections</div>
<div class="t" style="left:1478.47px;top:1270.00px;font-size:19.6px;line-height:19.6px;color:#6f6f7b;letter-spacing:-0.680px;">2.449</div>
<div class="t" style="left:1544.24px;top:1272.00px;font-size:17.25px;line-height:17.25px;color:#29284a;letter-spacing:-0.633px;font-weight:700;">14%</div>
<div class="t" style="left:1717.40px;top:907.00px;font-size:19.5px;line-height:19.5px;color:#14141f;letter-spacing:-0.017px;-webkit-text-stroke:0.2px #14141f;">Paul Carter</div>
<div class="t" style="left:1717.40px;top:938.00px;font-size:14.2px;line-height:14.2px;color:#6f6f7b;letter-spacing:-0.140px;">License: Valid</div>
<div class="t" style="left:1938.36px;top:921.00px;font-size:14.2px;line-height:14.2px;color:#9381ff;letter-spacing:0.034px;">Available</div>
<div class="t" style="left:1717.40px;top:989.00px;font-size:19.5px;line-height:19.5px;color:#14141f;letter-spacing:-0.233px;-webkit-text-stroke:0.2px #14141f;">Bella Stevens</div>
<div class="t" style="left:1717.40px;top:1019.00px;font-size:14.2px;line-height:14.2px;color:#6f6f7b;letter-spacing:-0.199px;">Training: Expires soon</div>
<div class="t" style="left:1944.11px;top:1003.00px;font-size:14.2px;line-height:14.2px;color:#6fdc8c;letter-spacing:-0.033px;">On Duty</div>
<div class="t" style="left:1717.40px;top:1070.00px;font-size:19.5px;line-height:19.5px;color:#14141f;letter-spacing:-0.116px;-webkit-text-stroke:0.2px #14141f;">Laurent Blake</div>
<div class="t" style="left:1717.40px;top:1100.00px;font-size:14.2px;line-height:14.2px;color:#6f6f7b;letter-spacing:-0.029px;">Performance: Excellent</div>
<div class="t" style="left:1944.11px;top:1084.00px;font-size:14.2px;line-height:14.2px;color:#6fdc8c;letter-spacing:-0.033px;">On Duty</div>
<div class="t" style="left:1717.40px;top:1151.00px;font-size:19.5px;line-height:19.5px;color:#14141f;letter-spacing:0.222px;-webkit-text-stroke:0.2px #14141f;">Gemma O'Connor</div>
<div class="t" style="left:1717.40px;top:1181.00px;font-size:14.2px;line-height:14.2px;color:#6f6f7b;letter-spacing:-0.140px;">License: Valid</div>
<div class="t" style="left:1950.64px;top:1165.00px;font-size:14.2px;line-height:14.2px;color:#ef6b73;letter-spacing:0.231px;">Absent</div>
<div class="t" style="left:1717.40px;top:1232.00px;font-size:19.5px;line-height:19.5px;color:#14141f;letter-spacing:-0.310px;-webkit-text-stroke:0.2px #14141f;">Tyson Ford</div>
<div class="t" style="left:1717.40px;top:1263.00px;font-size:14.2px;line-height:14.2px;color:#6f6f7b;letter-spacing:-0.140px;">License: Valid</div>
<div class="t" style="left:1938.36px;top:1246.00px;font-size:14.2px;line-height:14.2px;color:#9381ff;letter-spacing:0.034px;">Available</div>
<div class="b" style="left:726.70px;top:460.80px;width:115.50px;height:69.70px;background:#fcfcfc;border-radius:11px;box-shadow:0 9px 26px rgba(60,60,100,0.085), 0 1px 3px rgba(60,60,100,0.04);"></div>
<div class="b" style="left:1530.00px;top:443.30px;width:210.40px;height:93.70px;background:#fcfcfc;border-radius:11px;box-shadow:0 9px 26px rgba(60,60,100,0.085), 0 1px 3px rgba(60,60,100,0.04);"></div>
<div class="b" style="left:693.00px;top:937.80px;width:262.00px;height:90.00px;background:#fcfcfc;border-radius:11px;box-shadow:0 9px 26px rgba(60,60,100,0.085), 0 1px 3px rgba(60,60,100,0.04);"></div>
<svg width="2048" height="1344"><circle cx="1548.7" cy="492.2" r="4.2" fill="#e2e2e2"/><circle cx="1548.7" cy="517" r="4.2" fill="#9381ff"/><rect x="707.7" y="976.3" width="5.6" height="40.6" rx="2.8" fill="#9381ff"/><rect x="836.6" y="976.3" width="5.6" height="40.6" rx="2.8" fill="#29284a"/></svg>
<div class="t" style="left:741.99px;top:474.00px;font-size:14px;line-height:14px;color:#6f6f7b;letter-spacing:-0.118px;">Active Drivers</div>
<div class="t" style="left:772.83px;top:495.00px;font-size:21px;line-height:21px;color:#29284a;letter-spacing:-0.216px;font-weight:700;">56</div>
<div class="t" style="left:1545.80px;top:456.00px;font-size:13px;line-height:13px;color:#14141f;letter-spacing:-0.241px;-webkit-text-stroke:0.2px #14141f;">August 2028</div>
<div class="t" style="left:1559.40px;top:485.00px;font-size:14px;line-height:14px;color:#6f6f7b;letter-spacing:-0.018px;">Vehicles in Maintenance</div>
<div class="t" style="left:1717.60px;top:485.00px;font-size:14px;line-height:14px;color:#29284a;font-weight:700;">4</div>
<div class="t" style="left:1559.40px;top:510.00px;font-size:14px;line-height:14px;color:#6f6f7b;letter-spacing:-0.059px;">Available Vehicles</div>
<div class="t" style="left:1678.30px;top:510.00px;font-size:14px;line-height:14px;color:#29284a;letter-spacing:-0.195px;font-weight:700;">32</div>
<div class="t" style="left:707.30px;top:949.00px;font-size:13px;line-height:13px;color:#14141f;letter-spacing:-0.279px;-webkit-text-stroke:0.2px #14141f;">Permits Renewing</div>
<div class="t" style="left:721.80px;top:978.00px;font-size:13.2px;line-height:13.2px;color:#6f6f7b;letter-spacing:-0.410px;">Licenses Expiring</div>
<div class="t" style="left:721.80px;top:995.00px;font-size:19.5px;line-height:19.5px;color:#29284a;font-weight:700;">4</div>
<div class="t" style="left:851.20px;top:978.00px;font-size:13.2px;line-height:13.2px;color:#6f6f7b;letter-spacing:-0.361px;">Inspections Due</div>
<div class="t" style="left:851.20px;top:995.00px;font-size:19.5px;line-height:19.5px;color:#29284a;font-weight:700;">5</div>
</section></main>
</div></body></html>
